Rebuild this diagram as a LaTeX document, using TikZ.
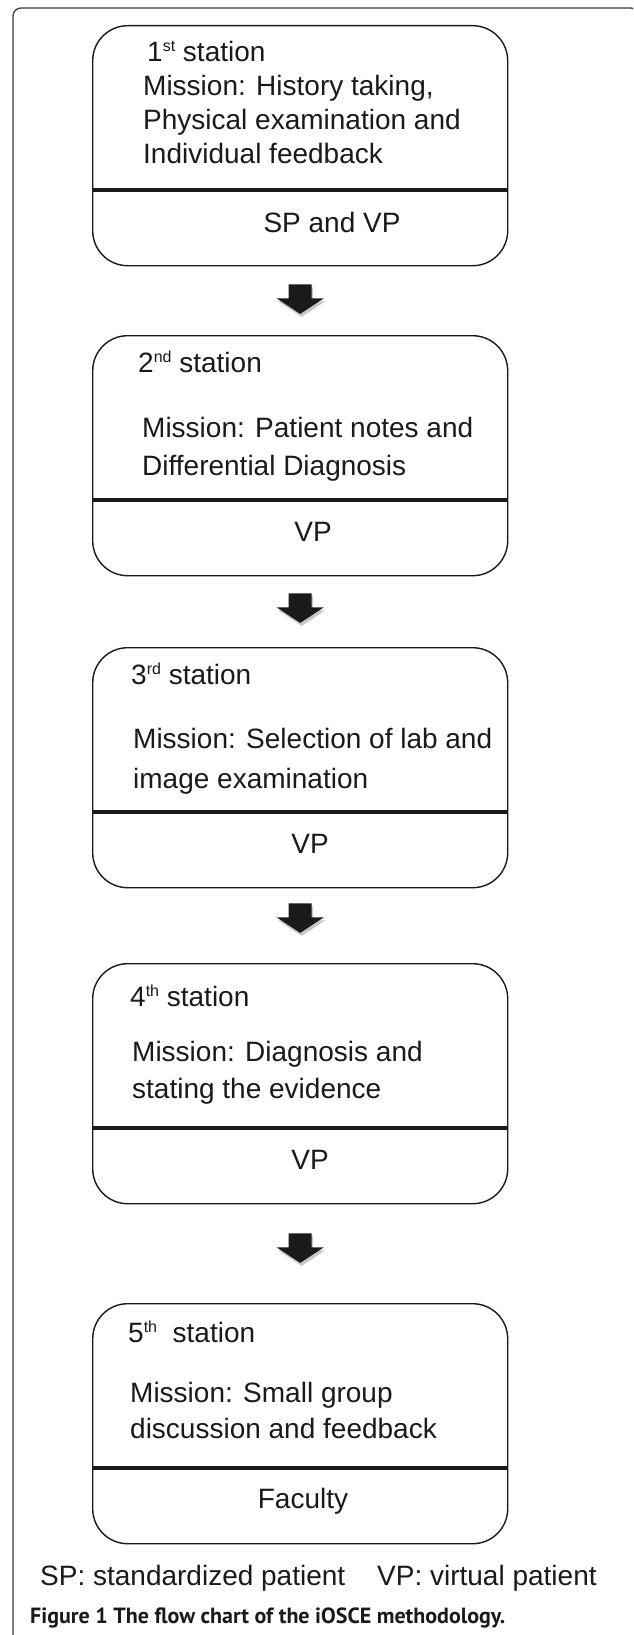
\documentclass[tikz,border=0pt]{standalone}
\usepackage{graphicx}
\usepackage{fontspec}
\setmainfont{Liberation Sans}
\newfontfamily\capfont{PT Sans}
\usetikzlibrary{calc,backgrounds}
\definecolor{shadowgray}{HTML}{C8C8C8}
\definecolor{ink}{HTML}{1A1A1A}
\definecolor{framegray}{HTML}{3A3A3A}
\newcommand\sups[1]{\raisebox{10pt}{\fontsize{16}{16}\selectfont #1}}
\newcommand\blockarrow[1]{%
  \begin{scope}[shift={(#1)}]
    \fill[shadowgray] (-10,3) -- (13,3) -- (13,17) -- (25,17) -- (1.5,32.5) -- (-22,17) -- (-10,17) -- cycle;
    \fill[ink] (-11.5,0) -- (11.5,0) -- (11.5,14) -- (23.5,14) -- (0,29.5) -- (-23.5,14) -- (-11.5,14) -- cycle;
  \end{scope}}
\begin{document}
\begin{tikzpicture}[x=1pt,y=-1pt,
  stationbox/.style={draw=ink, line width=1.4pt, rounded corners=35pt, minimum width=415pt, minimum height=240pt, inner sep=0pt, anchor=north west},
  boxshadow/.style={draw=shadowgray, line width=1.8pt, rounded corners=35pt},
  txt/.style={anchor=base west, inner sep=0pt, text=ink, font=\fontsize{28}{28}\selectfont},
  ctxt/.style={anchor=base, inner sep=0pt, text=ink, font=\fontsize{28}{28}\selectfont},
  divline/.style={draw=ink, line width=4.5pt},
  divshadow/.style={draw=shadowgray, line width=4pt}]
\useasboundingbox (0,0) rectangle (633,1635);
\clip (0,0) rectangle (633,1635);
\fill[white] (0,0) rectangle (633,1635);
% outer frame
\draw[framegray, line width=1.3pt, rounded corners=8pt] (13,8) rectangle (639,1680);
% station boxes
\node[stationbox] (b1) at (92,25) {};
\node[stationbox] (b2) at (92,335) {};
\node[stationbox] (b3) at (92,647) {};
\node[stationbox] (b4) at (92,963) {};
\node[stationbox] (b5) at (92,1303) {};
\begin{scope}[on background layer]
  \foreach \b in {b1,b2,b3,b4,b5}{
    \draw[boxshadow] ($(\b.north west)+(3,4)$) rectangle ($(\b.south east)+(3,4)$);
    \draw[divshadow] ($(\b.north west)+(0,169.5)$) -- ($(\b.north east)+(0,169.5)$);
  }
\end{scope}
\foreach \b in {b1,b2,b3,b4,b5}{
  \draw[divline] ($(\b.north west)+(0,165)$) -- ($(\b.north east)+(0,165)$);
}
% box 1
\node[txt] (t1a) at (147,62) {1\sups{st} station};
\node[txt] (t1b) at (143,96) {Mission: History taking,};
\node[txt] (t1c) at (143,130) {Physical examination and};
\node[txt] (t1d) at (143,163) {Individual feedback};
\node[ctxt] (t1e) at (332,232) {SP and VP};
% box 2
\node[txt] (t2a) at (138,372) {2\sups{nd} station};
\node[txt] (t2b) at (142,437) {Mission: Patient notes and};
\node[txt] (t2c) at (142,475) {Differential Diagnosis};
\node[ctxt] (t2e) at (313,541) {VP};
% box 3
\node[txt] (t3a) at (131,684) {3\sups{rd} station};
\node[txt] (t3b) at (133,748) {Mission: Selection of lab and};
\node[txt] (t3c) at (133,788) {image examination};
\node[ctxt] (t3e) at (310,853) {VP};
% box 4
\node[txt] (t4a) at (130,1006) {4\sups{th} station};
\node[txt] (t4b) at (132,1061) {Mission: Diagnosis and};
\node[txt] (t4c) at (132,1098) {stating the evidence};
\node[ctxt] (t4e) at (310,1169) {VP};
% box 5
\node[txt] (t5a) at (128,1342) {5\sups{th}\ \ station};
\node[txt] (t5b) at (130,1402) {Mission: Small group};
\node[txt] (t5c) at (130,1438) {discussion and feedback};
\node[ctxt] (t5e) at (303,1508) {Faculty};
% arrows between boxes
\coordinate (a1) at ($(b1.south)+(0,18)$);
\coordinate (a2) at ($(b2.south)+(0,17)$);
\coordinate (a3) at ($(b3.south)+(0,15)$);
\coordinate (a4) at ($(b4.south)+(0,29)$);
\blockarrow{a1}
\blockarrow{a2}
\blockarrow{a3}
\blockarrow{a4}
% legend and caption
\node[txt] (leg1) at (40,1585) {SP: standardized patient};
\node[txt] (leg2) at (377,1585) {VP: virtual patient};
\node[anchor=base west, inner sep=0pt, text=ink] (cap) at (30,1623) {\resizebox{475pt}{!}{\capfont\fontsize{16}{16}\selectfont\bfseries Figure 1 The flow chart of the iOSCE methodology.}};
\end{tikzpicture}
\end{document}
